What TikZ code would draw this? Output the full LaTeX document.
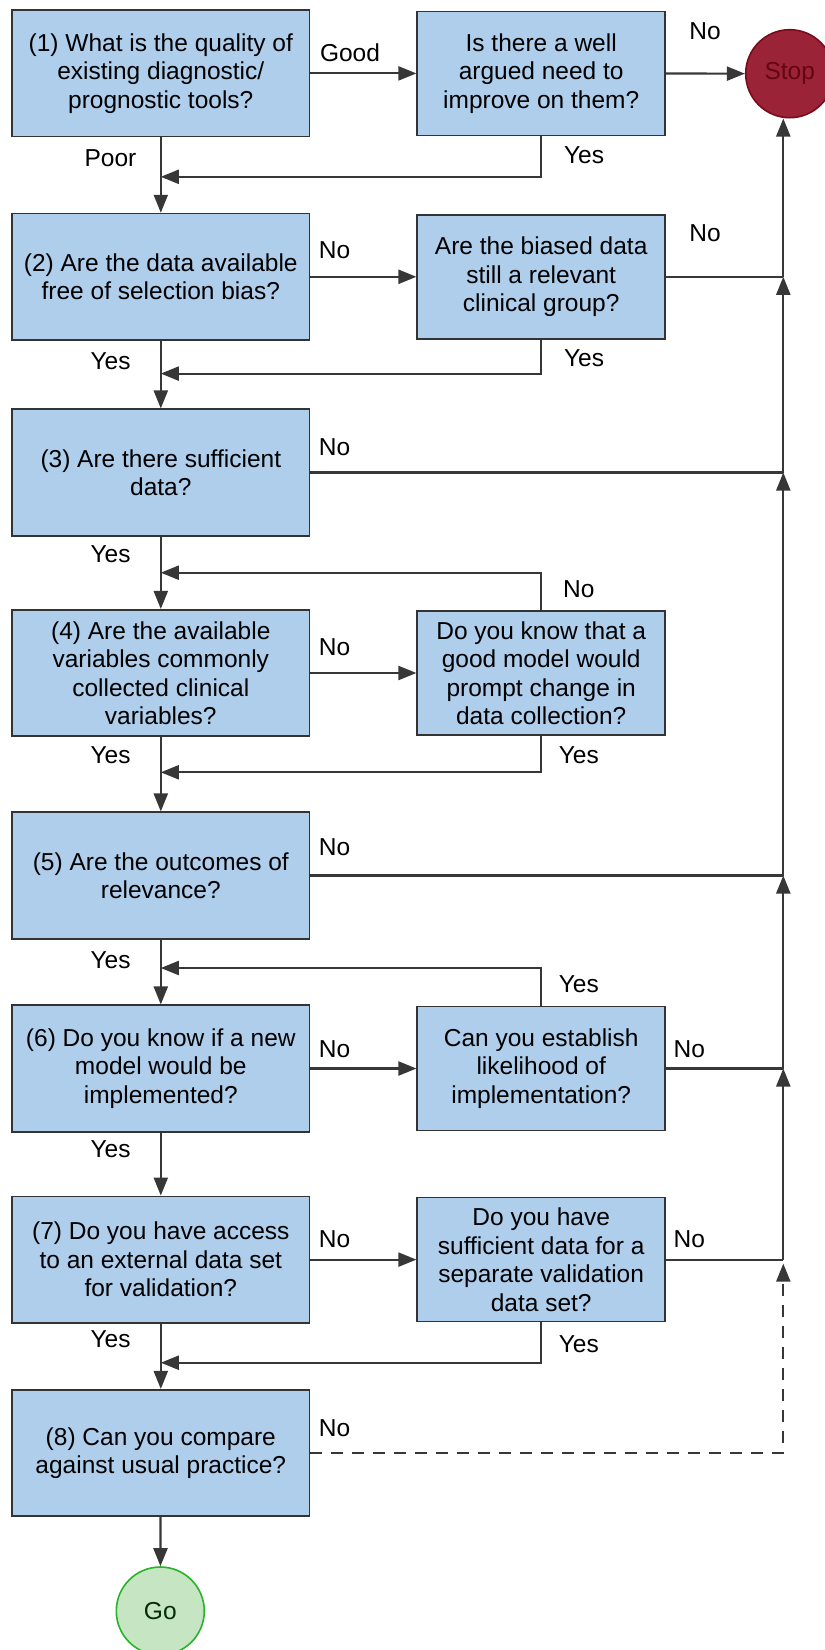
\documentclass[tikz,border=0pt]{standalone}
\usepackage{fontspec}
\setmainfont{Liberation Sans}
\usepackage{tikz}
\usetikzlibrary{arrows.meta, calc, positioning}

\definecolor{boxfill}{RGB}{174,206,236}
\definecolor{boxline}{RGB}{51,51,51}
\definecolor{edgecol}{RGB}{55,55,55}
\definecolor{stopfill}{RGB}{155,35,55}
\definecolor{stopline}{RGB}{120,12,28}
\definecolor{stoptext}{RGB}{100,6,18}
\definecolor{gofill}{RGB}{198,229,195}
\definecolor{goline}{RGB}{40,180,40}
\definecolor{gotext}{RGB}{5,45,5}

\newcommand{\qfont}{\fontsize{24.5bp}{28.5bp}\selectfont}

\tikzset{
  qbox/.style={draw=boxline, line width=1.6bp, fill=boxfill, align=center,
    inner sep=0pt, font=\qfont},
  qleft/.style={qbox, minimum width=297bp, minimum height=126.5bp},
  qright/.style={qbox, minimum width=248bp, minimum height=124bp},
  endpt/.style={circle, line width=1.6bp, minimum size=88bp, inner sep=0pt, font=\qfont},
  edge/.style={draw=edgecol, line width=2.2bp},
  lbl/.style={inner sep=0pt, font=\qfont},
}

\begin{document}
\begin{tikzpicture}[x=1bp,y=-1bp,>={Triangle[length=18bp,width=14bp]}]
\useasboundingbox (0,0) rectangle (825,1650);
\clip (0,0) rectangle (825,1650);
%%
  % Node: q1 .. q8 (left column)
  \node[qleft] (q1) at (160.8,73.4) {(1) What is the quality of\\existing diagnostic/\\prognostic tools?};
  \node[qleft] (q2) at (160.8,276.8) {(2) Are the data available\\free of selection bias?};
  \node[qleft] (q3) at (160.8,472.5) {(3) Are there sufficient\\data?};
  \node[qleft] (q4) at (160.8,673) {(4) Are the available\\variables commonly\\collected clinical\\variables?};
  \node[qleft] (q5) at (160.8,875.5) {(5) Are the outcomes of\\relevance?};
  \node[qleft] (q6) at (160.8,1068.5) {(6) Do you know if a new\\model would be\\implemented?};
  \node[qleft] (q7) at (160.8,1259.6) {(7) Do you have access\\to an external data set\\for validation?};
  \node[qleft] (q8) at (160.8,1453) {(8) Can you compare\\against usual practice?};
  % Node: q1r .. q7r (right column)
  \node[qright] (q1r) at (541.2,73.4) {Is there a well\\argued need to\\improve on them?};
  \node[qright] (q2r) at (541.2,276.8) {Are the biased data\\still a relevant\\clinical group?};
  \node[qright] (q4r) at (541.2,673) {Do you know that a\\good model would\\prompt change in\\data collection?};
  \node[qright] (q6r) at (541.2,1068.5) {Can you establish\\likelihood of\\implementation?};
  \node[qright] (q7r) at (541.2,1259.6) {Do you have\\sufficient data for a\\separate validation\\data set?};
  % Node: stop, go
  \node[endpt, draw=stopline, fill=stopfill, text=stoptext] (stop) at (789.7,73.7) {Stop};
  \node[endpt, draw=goline, fill=gofill, text=gotext] (go) at (160.3,1611) {Go};
%%
  % merge points on the main column
  \coordinate (m1) at (160.8,176.8);
  \coordinate (m2) at (160.8,373.6);
  \coordinate (m3) at (160.8,572.7);
  \coordinate (m4) at (160.8,772.3);
  \coordinate (m5) at (160.8,968);
  \coordinate (m6) at (160.8,1362.7);
  % joints on the stop line
  \coordinate (j2) at (783.3,276.8);
  \coordinate (j3) at (783.3,472.5);
  \coordinate (j5) at (783.3,875.5);
  \coordinate (j6) at (783.3,1068.5);
  \coordinate (j7) at (783.3,1259.6);
  \coordinate (j8) at (783.3,1453);
%%
  % Edge: q1 -- q1r -- stop
  \draw[edge,->] (q1) -- (q1r);
  \draw[edge,->] (q1r) -- (stop);
  \draw[edge,->] (q1) -- (q2);
  \draw[edge,->] (q1r.south) |- (m1);
  % Edge: q2 -- q2r
  \draw[edge,->] (q2) -- (q2r);
  \draw[edge] (q2r) -- (j2);
  \draw[edge,->] (j2) -- (j2 |- stop.south);
  \draw[edge,->] (q2) -- (q3);
  \draw[edge,->] (q2r.south) |- (m2);
  % Edge: q3 -- stop
  \draw[edge] (q3) -- (j3);
  \draw[edge,->] (j3) -- (j2);
  \draw[edge,->] (q3) -- (q4);
  % Edge: q4 -- q4r
  \draw[edge,->] (q4r.north) |- (m3);
  \draw[edge,->] (q4) -- (q4r);
  \draw[edge,->] (q4r.south) |- (m4);
  \draw[edge,->] (q4) -- (q5);
  % Edge: q5 -- stop
  \draw[edge] (q5) -- (j5);
  \draw[edge,->] (j5) -- (j3);
  \draw[edge,->] (q5) -- (q6);
  % Edge: q6 -- q6r
  \draw[edge,->] (q6r.north) |- (m5);
  \draw[edge,->] (q6) -- (q6r);
  \draw[edge] (q6r) -- (j6);
  \draw[edge,->] (j6) -- (j5);
  \draw[edge,->] (q6) -- (q7);
  % Edge: q7 -- q7r
  \draw[edge,->] (q7) -- (q7r);
  \draw[edge] (q7r) -- (j7);
  \draw[edge,->] (j7) -- (j6);
  \draw[edge,->] (q7r.south) |- (m6);
  \draw[edge,->] (q7) -- (q8);
  % Edge: q8 -- stop (dashed)
  \draw[edge,dash pattern=on 12bp off 9bp,->,shorten >=4bp] (q8) -- (j8) -- (j7);
  % Edge: q8 -- go
  \draw[edge,->] (q8) -- (go);
%%
  % Labels
  \node[lbl] (lGood) at (350,52.6) {Good};
  \node[lbl] (lNo1) at (705,31.6) {No};
  \node[lbl] (lPoor) at (110.5,158) {Poor};
  \node[lbl] (lYes1) at (584,154.7) {Yes};
  \node[lbl] (lNo2a) at (334.6,250.5) {No};
  \node[lbl] (lNo2b) at (705,233.6) {No};
  \node[lbl] (lYes2a) at (110.5,361) {Yes};
  \node[lbl] (lYes2b) at (584,357.8) {Yes};
  \node[lbl] (lNo3) at (334.6,447) {No};
  \node[lbl] (lYes3) at (110.5,554.6) {Yes};
  \node[lbl] (lNo4a) at (578.8,589) {No};
  \node[lbl] (lNo4b) at (334.6,647) {No};
  \node[lbl] (lYes4a) at (110.5,755.5) {Yes};
  \node[lbl] (lYes4b) at (578.8,755.5) {Yes};
  \node[lbl] (lNo5) at (334.6,847) {No};
  \node[lbl] (lYes5a) at (110.5,959.7) {Yes};
  \node[lbl] (lYes5b) at (578.8,984) {Yes};
  \node[lbl] (lNo6a) at (334.6,1049) {No};
  \node[lbl] (lNo6b) at (689.3,1049) {No};
  \node[lbl] (lYes6) at (110.5,1149) {Yes};
  \node[lbl] (lNo7a) at (334.6,1239.6) {No};
  \node[lbl] (lNo7b) at (689.3,1239.6) {No};
  \node[lbl] (lYes7a) at (110.5,1339.6) {Yes};
  \node[lbl] (lYes7b) at (578.8,1343.8) {Yes};
  \node[lbl] (lNo8) at (334.6,1428) {No};
%
\end{tikzpicture}
\end{document}
